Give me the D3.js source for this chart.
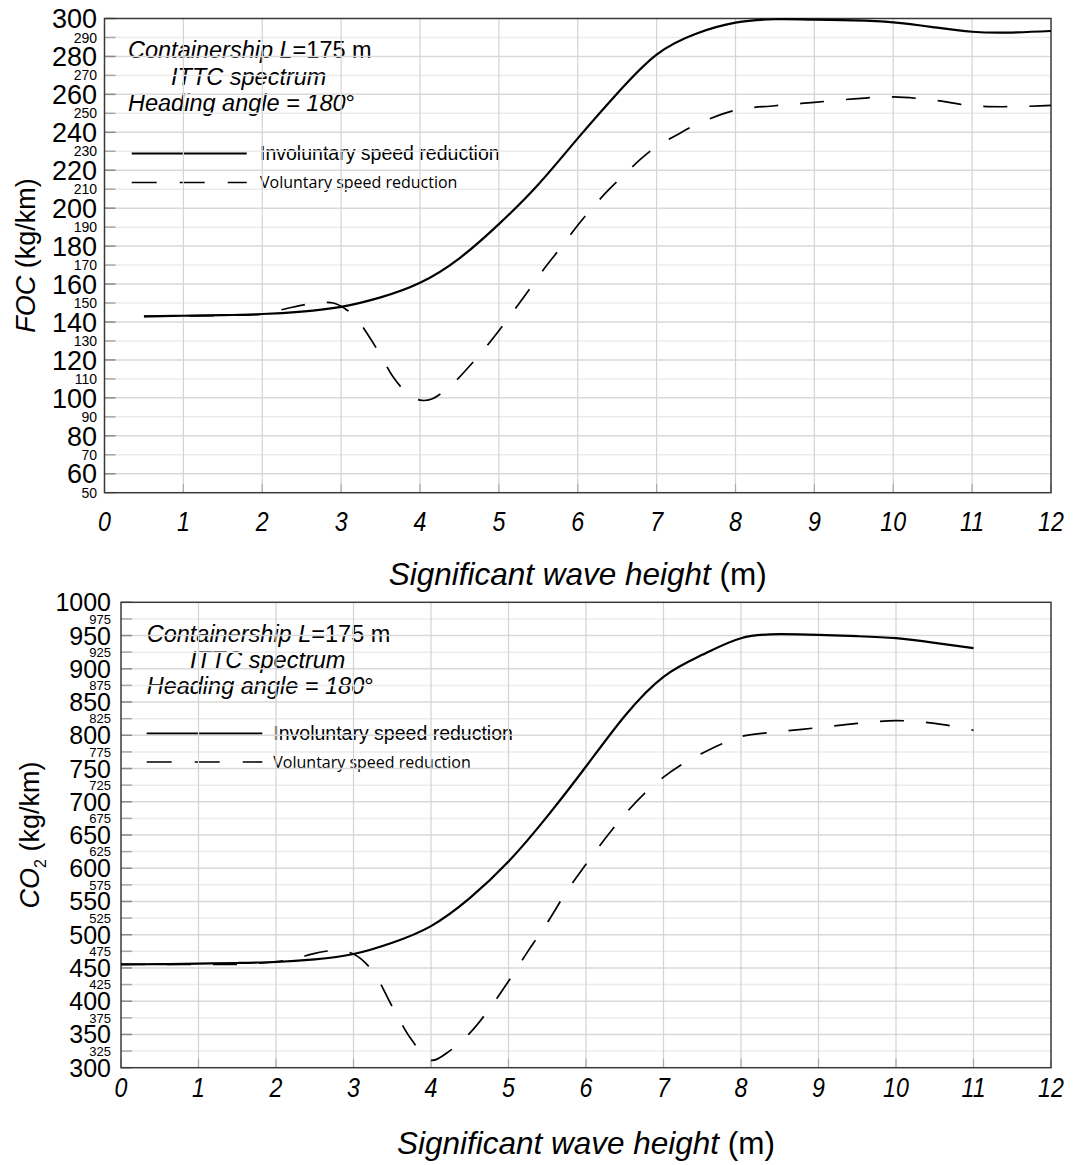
<!DOCTYPE html>
<html>
<head>
<meta charset="utf-8">
<script src="https://cdn.jsdelivr.net/npm/d3@7"></script>
<style>
  body { margin: 0; background: #fff; }
  svg text { font-family: "Liberation Sans", Arial, sans-serif; fill: #000; }
</style>
</head>
<body>
<svg id="chart" width="1078" height="1165"></svg>
<script>
/// DATA ///
const waveTicks = [0, 1, 2, 3, 4, 5, 6, 7, 8, 9, 10, 11, 12];

// FOC chart (kg/km)
const focMajorTicks = [60, 80, 100, 120, 140, 160, 180, 200, 220, 240, 260, 280, 300];
const focMinorTicks = [50, 70, 90, 110, 130, 150, 170, 190, 210, 230, 250, 270, 290];

const focWaveInvol = [0.5, 1, 1.5, 2, 2.5, 3, 3.5, 4, 4.5, 5, 5.5, 6, 6.5, 7, 7.5, 8, 8.5, 9, 9.5, 10, 10.5, 11, 11.5, 12];
const focInvol = [143, 143.3, 143.6, 144.2, 145.5, 148, 153, 160.7, 173.6, 191.6, 212.5, 236.8, 260.5, 281, 292, 297.8, 299.6, 299.4, 299, 298, 295.5, 293, 292.6, 293.4];

const focWaveVol = [0.5, 1, 1.5, 2, 2.3, 2.6, 2.9, 3.05, 3.2, 3.35, 3.5, 3.66, 3.85, 4, 4.15, 4.4, 4.6, 4.8, 5, 5.2, 5.4, 5.6, 5.8, 6, 6.2, 6.4, 6.6, 6.8, 7, 7.25, 7.5, 8, 8.5, 9, 9.5, 10, 10.5, 11, 11.5, 12];
const focVol = [143, 143.2, 143.5, 144.2, 147, 149.5, 150, 147, 141.5, 132.6, 122.5, 111, 102, 98.8, 99.4, 106.8, 115.5, 125, 135.4, 146.5, 158, 169.5, 180, 191, 201, 210, 218, 226, 232.5, 238.5, 244, 251.7, 254, 255.8, 257.6, 258.7, 257, 254, 253.5, 254.2];

// CO2 chart (kg/km)
const co2MajorTicks = [300, 350, 400, 450, 500, 550, 600, 650, 700, 750, 800, 850, 900, 950, 1000];
const co2MinorTicks = [325, 375, 425, 475, 525, 575, 625, 675, 725, 775, 825, 875, 925, 975];

const co2WaveInvol = [0, 0.5, 1, 1.5, 2, 2.5, 3, 3.5, 4, 4.5, 5, 5.5, 6, 6.5, 7, 7.5, 8, 8.5, 9, 9.5, 10, 10.5, 11];
const co2Invol = [455.5, 455.8, 456.5, 457.5, 459, 463, 471, 488, 513, 555, 610, 678, 753, 829, 888, 921, 946, 952, 951, 949, 946, 939, 931];

const co2WaveVol = [0, 0.5, 1, 1.5, 2, 2.25, 2.5, 2.75, 3, 3.25, 3.5, 3.75, 4, 4.25, 4.5, 4.75, 5, 5.25, 5.5, 5.75, 6, 6.25, 6.5, 6.75, 7, 7.25, 7.5, 7.75, 8, 8.5, 9, 9.5, 10, 10.5, 11];
const co2Vol = [455.5, 455.5, 455.5, 455.5, 459.5, 464, 472, 476, 471, 445, 392, 342, 311, 326, 352, 388, 430, 475, 518, 565, 606, 645, 681, 712, 737, 757, 773, 787, 798, 805.5, 811.5, 818, 822, 818, 807.5];

const noteLines = ["Containership L=175 m", "ITTC spectrum", "Heading angle = 180\u00b0"];
const legendLabels = ["Involuntary speed reduction", "Voluntary speed reduction"];

/// LAYOUT ///
const svg = d3.select("#chart");

const panels = [
  {
    left: 104.5, right: 1051, top: 18.5, bottom: 492.7,
    domain: [50, 300], major: focMajorTicks, minor: focMinorTicks,
    majorSize: 27, minorSize: 14,
    invol: { x: focWaveInvol, y: focInvol }, vol: { x: focWaveVol, y: focVol },
    labelRight: 97, xLabelY: 522, titleY: 574, yTitleX: 26, yTitle: "FOC",
    noteX: 128, noteX2: 171, noteY: [50, 77, 103], legY: [153.5, 182.5],
    legLine: [131.7, 246.7], legText: 260
  },
  {
    left: 121, right: 1051, top: 602.3, bottom: 1067.7,
    domain: [300, 1000], major: co2MajorTicks, minor: co2MinorTicks,
    majorSize: 25, minorSize: 13,
    invol: { x: co2WaveInvol, y: co2Invol }, vol: { x: co2WaveVol, y: co2Vol },
    labelRight: 111, xLabelY: 1088, titleY: 1143, yTitleX: 30, yTitle: "CO2",
    noteX: 146.7, noteX2: 190, noteY: [634, 660, 686], legY: [733.5, 762],
    legLine: [146.7, 262.3], legText: 273.3
  }
];

function drawPanel(p) {
  const x = d3.scaleLinear().domain([0, 12]).range([p.left, p.right]);
  const y = d3.scaleLinear().domain(p.domain).range([p.bottom, p.top]);
  const g = svg.append("g");

  // notes + legend (grid is drawn over them, like the original)
  const notes = g.append("g").style("font-style", "italic").style("font-size", "23.5px");
  const n1 = notes.append("text").attr("x", p.noteX).attr("y", p.noteY[0]).attr("dy", "0.35em");
  n1.append("tspan").text("Containership L");
  n1.append("tspan").style("font-style", "normal").text("=175 m");
  notes.append("text").attr("x", p.noteX2).attr("y", p.noteY[1]).attr("dy", "0.35em").text(noteLines[1]);
  const n3 = notes.append("text").attr("x", p.noteX).attr("y", p.noteY[2]).attr("dy", "0.35em");
  n3.append("tspan").text("Heading angle = 180");
  n3.append("tspan").style("font-style", "normal").text("\u00b0");

  g.append("line")
    .attr("x1", p.legLine[0]).attr("x2", p.legLine[1])
    .attr("y1", p.legY[0]).attr("y2", p.legY[0])
    .attr("stroke", "#000").attr("stroke-width", 2);
  g.append("line")
    .attr("x1", p.legLine[0]).attr("x2", p.legLine[1])
    .attr("y1", p.legY[1]).attr("y2", p.legY[1])
    .attr("stroke", "#000").attr("stroke-width", 1.6)
    .attr("stroke-dasharray", "25 23");
  g.append("text").attr("x", p.legText).attr("y", p.legY[0]).attr("dy", "0.35em")
    .style("font-size", "19.5px").text(legendLabels[0]);
  g.append("text").attr("x", p.legText).attr("y", p.legY[1]).attr("dy", "0.35em")
    .style("font-family", "'Open Sans', sans-serif").style("font-size", "16px")
    .text(legendLabels[1]);

  // horizontal grid
  g.selectAll(".hgrid-minor").data(p.minor.filter((v) => v > p.domain[0])).enter()
    .append("line")
    .attr("x1", p.left).attr("x2", p.right)
    .attr("y1", (d) => y(d)).attr("y2", (d) => y(d))
    .attr("stroke", "#ececec").attr("stroke-width", 1.5);
  g.selectAll(".hgrid-major").data(p.major.filter((v) => v < p.domain[1] && v > p.domain[0])).enter()
    .append("line")
    .attr("x1", p.left).attr("x2", p.right)
    .attr("y1", (d) => y(d)).attr("y2", (d) => y(d))
    .attr("stroke", "#d9d9d9").attr("stroke-width", 1.5);

  // vertical grid
  g.selectAll(".vgrid").data(waveTicks.slice(1, -1)).enter()
    .append("line")
    .attr("x1", (d) => x(d)).attr("x2", (d) => x(d))
    .attr("y1", p.top).attr("y2", p.bottom)
    .attr("stroke", "#d4d4d4").attr("stroke-width", 1.2);

  // inner ticks
  g.selectAll(".ytick").data(p.major.concat(p.minor)).enter()
    .append("line")
    .attr("x1", p.left).attr("x2", p.left + 11)
    .attr("y1", (d) => y(d)).attr("y2", (d) => y(d))
    .attr("stroke", (d) => (p.major.includes(d) ? "#8a8a8a" : "#a8a8a8"))
    .attr("stroke-width", 1.5);
  g.selectAll(".xtick").data(waveTicks).enter()
    .append("line")
    .attr("x1", (d) => x(d)).attr("x2", (d) => x(d))
    .attr("y1", p.bottom).attr("y2", p.bottom - 9)
    .attr("stroke", "#aaa").attr("stroke-width", 1.2);

  // frame
  g.append("rect")
    .attr("x", p.left).attr("y", p.top)
    .attr("width", p.right - p.left).attr("height", p.bottom - p.top)
    .attr("fill", "none").attr("stroke", "#3a3a3a").attr("stroke-width", 1.5);

  // y tick labels
  g.selectAll(".ymaj").data(p.major).enter()
    .append("text")
    .attr("x", p.labelRight).attr("y", (d) => y(d)).attr("dy", "0.36em")
    .attr("text-anchor", "end").style("font-size", p.majorSize + "px")
    .text((d) => d);
  g.selectAll(".ymin").data(p.minor).enter()
    .append("text")
    .attr("x", p.labelRight).attr("y", (d) => y(d)).attr("dy", "0.36em")
    .attr("text-anchor", "end").style("font-size", p.minorSize + "px")
    .text((d) => d);

  // x tick labels (narrow, tall digits like the original)
  g.selectAll(".xlab").data(waveTicks).enter()
    .append("text")
    .attr("transform", (d) => `translate(${x(d)},${p.xLabelY}) scale(0.86,1)`)
    .attr("dy", "0.35em")
    .attr("text-anchor", "middle")
    .style("font-size", "27px").style("font-style", "italic")
    .text((d) => d);

  // axis titles
  const xt = g.append("text")
    .attr("x", (p.left + p.right) / 2).attr("y", p.titleY).attr("dy", "0.35em")
    .attr("text-anchor", "middle").style("font-size", "31.5px");
  xt.append("tspan").style("font-style", "italic").text("Significant wave height");
  xt.append("tspan").text(" (m)");

  const yt = g.append("text")
    .attr("transform", `translate(${p.yTitleX},${(p.top + p.bottom) / 2}) rotate(-90)`)
    .attr("dy", "0.35em")
    .attr("text-anchor", "middle").style("font-size", "27px");
  if (p.yTitle === "CO2") {
    yt.append("tspan").style("font-style", "italic").text("CO");
    yt.append("tspan").attr("dy", 7).style("font-size", "16px").text("2");
    yt.append("tspan").attr("dy", -7).text(" (kg/km)");
  } else {
    yt.append("tspan").style("font-style", "italic").text("FOC");
    yt.append("tspan").text(" (kg/km)");
  }

  // curves
  const solidLine = d3.line()
    .x((d) => x(d[0]))
    .y((d) => y(d[1]))
    .curve(d3.curveNatural);
  const dashLine = d3.line()
    .x((d) => x(d[0]))
    .y((d) => y(d[1]))
    .curve(d3.curveCatmullRom.alpha(0.5));

  g.append("path")
    .datum(d3.zip(p.invol.x, p.invol.y))
    .attr("d", solidLine)
    .attr("fill", "none").attr("stroke", "#000").attr("stroke-width", 2.2);
  g.append("path")
    .datum(d3.zip(p.vol.x, p.vol.y))
    .attr("d", dashLine)
    .attr("fill", "none").attr("stroke", "#000").attr("stroke-width", 1.7)
    .attr("stroke-dasharray", "24 22");
}

panels.forEach(drawPanel);
</script>
</body>
</html>
